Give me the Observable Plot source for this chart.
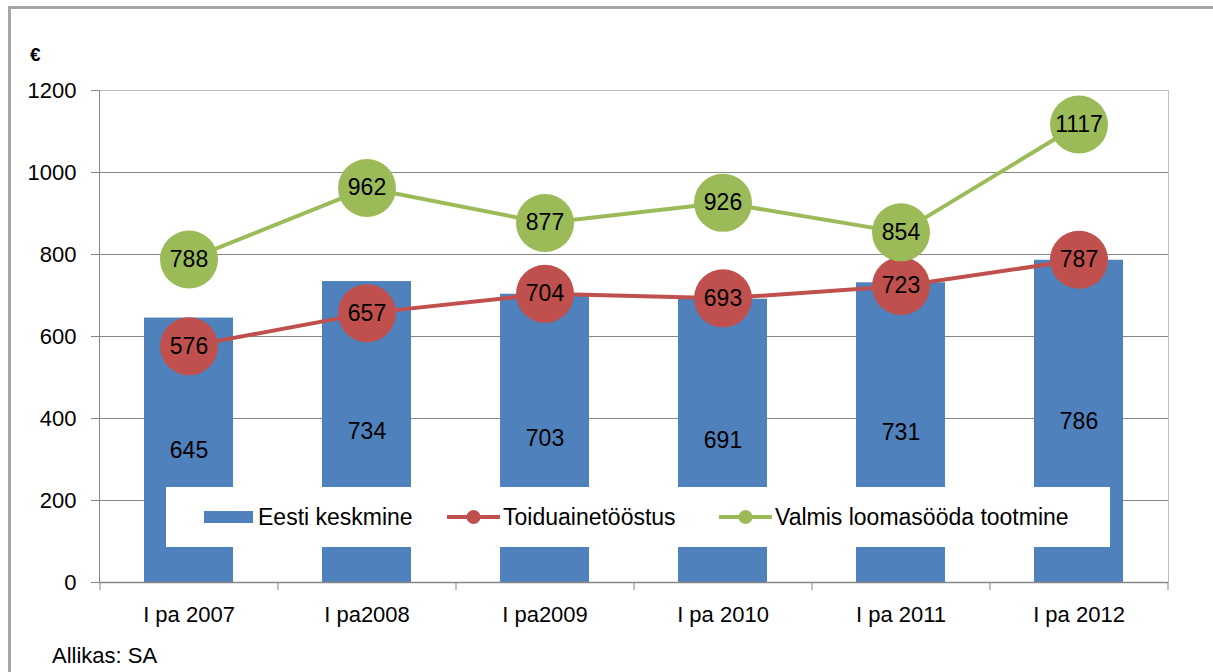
<!DOCTYPE html>
<html>
<head>
<meta charset="utf-8">
<script src="https://cdn.jsdelivr.net/npm/d3@7"></script>
<script src="https://cdn.jsdelivr.net/npm/@observablehq/plot@0.6"></script>
<style>
  html, body { margin: 0; padding: 0; background: #fff; }
  #wrap { position: relative; width: 1213px; height: 672px; overflow: hidden; font-family: "Liberation Sans", Arial, sans-serif; }
  #frameTop { position: absolute; left: 8px; top: 6px; width: 1213px; height: 3px; background: #a6a6a6; }
  #frameLeft { position: absolute; left: 8px; top: 6px; width: 3px; height: 680px; background: #a6a6a6; }
  #euro { position: absolute; left: 30px; top: 44px; font-size: 19px; font-weight: bold; }
  #source { position: absolute; left: 52px; top: 643px; font-size: 22px; }
  #legend { position: absolute; left: 166px; top: 487px; width: 944px; height: 60px; background: #fff; }
  .lg { position: absolute; top: 0; height: 60px; display: flex; align-items: center; font-size: 23px; white-space: nowrap; color: #000; }
  .sw { display: inline-block; }
  svg { position: absolute; left: 0; top: 0; }
</style>
</head>
<body>
<div id="wrap"></div>
<script>
const categories = ["I pa 2007", "I pa2008", "I pa2009", "I pa 2010", "I pa 2011", "I pa 2012"];
const eestiKeskmine = [645, 734, 703, 691, 731, 786];
const toiduainetoostus = [576, 657, 704, 693, 723, 787];
const loomasoot = [788, 962, 877, 926, 854, 1117];
const yTicks = [0, 200, 400, 600, 800, 1000, 1200];
const seriesNames = ["Eesti keskmine", "Toiduainetööstus", "Valmis loomasööda tootmine"];
const colors = ["#4F81BD", "#C0504D", "#9BBB59"];

const data = categories.map((c, i) => ({cat: c, avg: eestiKeskmine[i], food: toiduainetoostus[i], feed: loomasoot[i]}));
const last = categories[categories.length - 1];

const chart = Plot.plot({
  width: 1213,
  height: 672,
  marginLeft: 99,
  marginRight: 45,
  marginTop: 90,
  marginBottom: 90,
  style: {fontFamily: "'Liberation Sans', Arial, sans-serif", background: "transparent", color: "#000"},
  x: {domain: categories, paddingInner: 0.5, paddingOuter: 0.25, label: null},
  y: {domain: [0, 1200], label: null},
  marks: [
    Plot.gridY(yTicks.slice(1, -1), {stroke: "#868686", strokeOpacity: 1}),
    Plot.frame({stroke: "#bfbfbf"}),
    Plot.barY(data, {x: "cat", y: "avg", fill: colors[0]}),
    Plot.ruleY([0], {stroke: "#868686", strokeWidth: 1.5}),
    Plot.frame({anchor: "left", stroke: "#868686"}),
    Plot.ruleX(categories, {x: d => d, y1: 0, y2: -20, dx: -89, stroke: "#868686"}),
    Plot.ruleX([last], {x: d => d, y1: 0, y2: -20, dx: 89, stroke: "#868686"}),
    Plot.axisY({ticks: yTicks, tickSize: 8, stroke: "#868686", fill: "none"}),
    Plot.axisY({ticks: yTicks, tickSize: 0, tickPadding: 23, fontSize: 22, fill: "#000", tickFormat: d => String(d)}),
    Plot.axisX({tickSize: 0, tickPadding: 24, fontSize: 22, fill: "#000"}),
    Plot.text(data, {x: "cat", y: d => d.avg / 2, text: d => String(d.avg), fontSize: 23, fill: "#000"}),
    Plot.lineY(data, {x: "cat", y: "food", stroke: colors[1], strokeWidth: 4}),
    Plot.lineY(data, {x: "cat", y: "feed", stroke: colors[2], strokeWidth: 4}),
    Plot.dot(data, {x: "cat", y: "food", r: 29, fill: colors[1], stroke: null}),
    Plot.dot(data, {x: "cat", y: "feed", r: 29, fill: colors[2], stroke: null}),
    Plot.text(data, {x: "cat", y: "food", text: d => String(d.food), fontSize: 23, fill: "#000"}),
    Plot.text(data, {x: "cat", y: "feed", text: d => String(d.feed), fontSize: 23, fill: "#000"})
  ]
});

const wrap = document.getElementById("wrap");
wrap.appendChild(chart);

function div(id, html) { const d = document.createElement("div"); d.id = id; d.innerHTML = html; wrap.appendChild(d); return d; }
div("frameTop", "");
div("frameLeft", "");
div("euro", "€");
div("source", "Allikas: SA");

const legend = div("legend", "");
const itemLeft = [38, 281, 553];
seriesNames.forEach((name, i) => {
  const it = document.createElement("div");
  it.className = "lg";
  it.style.left = itemLeft[i] + "px";
  let sw;
  if (i === 0) {
    sw = `<span class="sw" style="width:49px;height:12px;background:${colors[0]};margin-right:5px"></span>`;
  } else {
    sw = `<svg width="53" height="16" style="position:static;margin-right:3px"><line x1="0" x2="53" y1="8" y2="8" stroke="${colors[i]}" stroke-width="4"/><circle cx="26.5" cy="8" r="7" fill="${colors[i]}"/></svg>`;
  }
  it.innerHTML = sw + `<span>${name}</span>`;
  legend.appendChild(it);
});
</script>
</body>
</html>
